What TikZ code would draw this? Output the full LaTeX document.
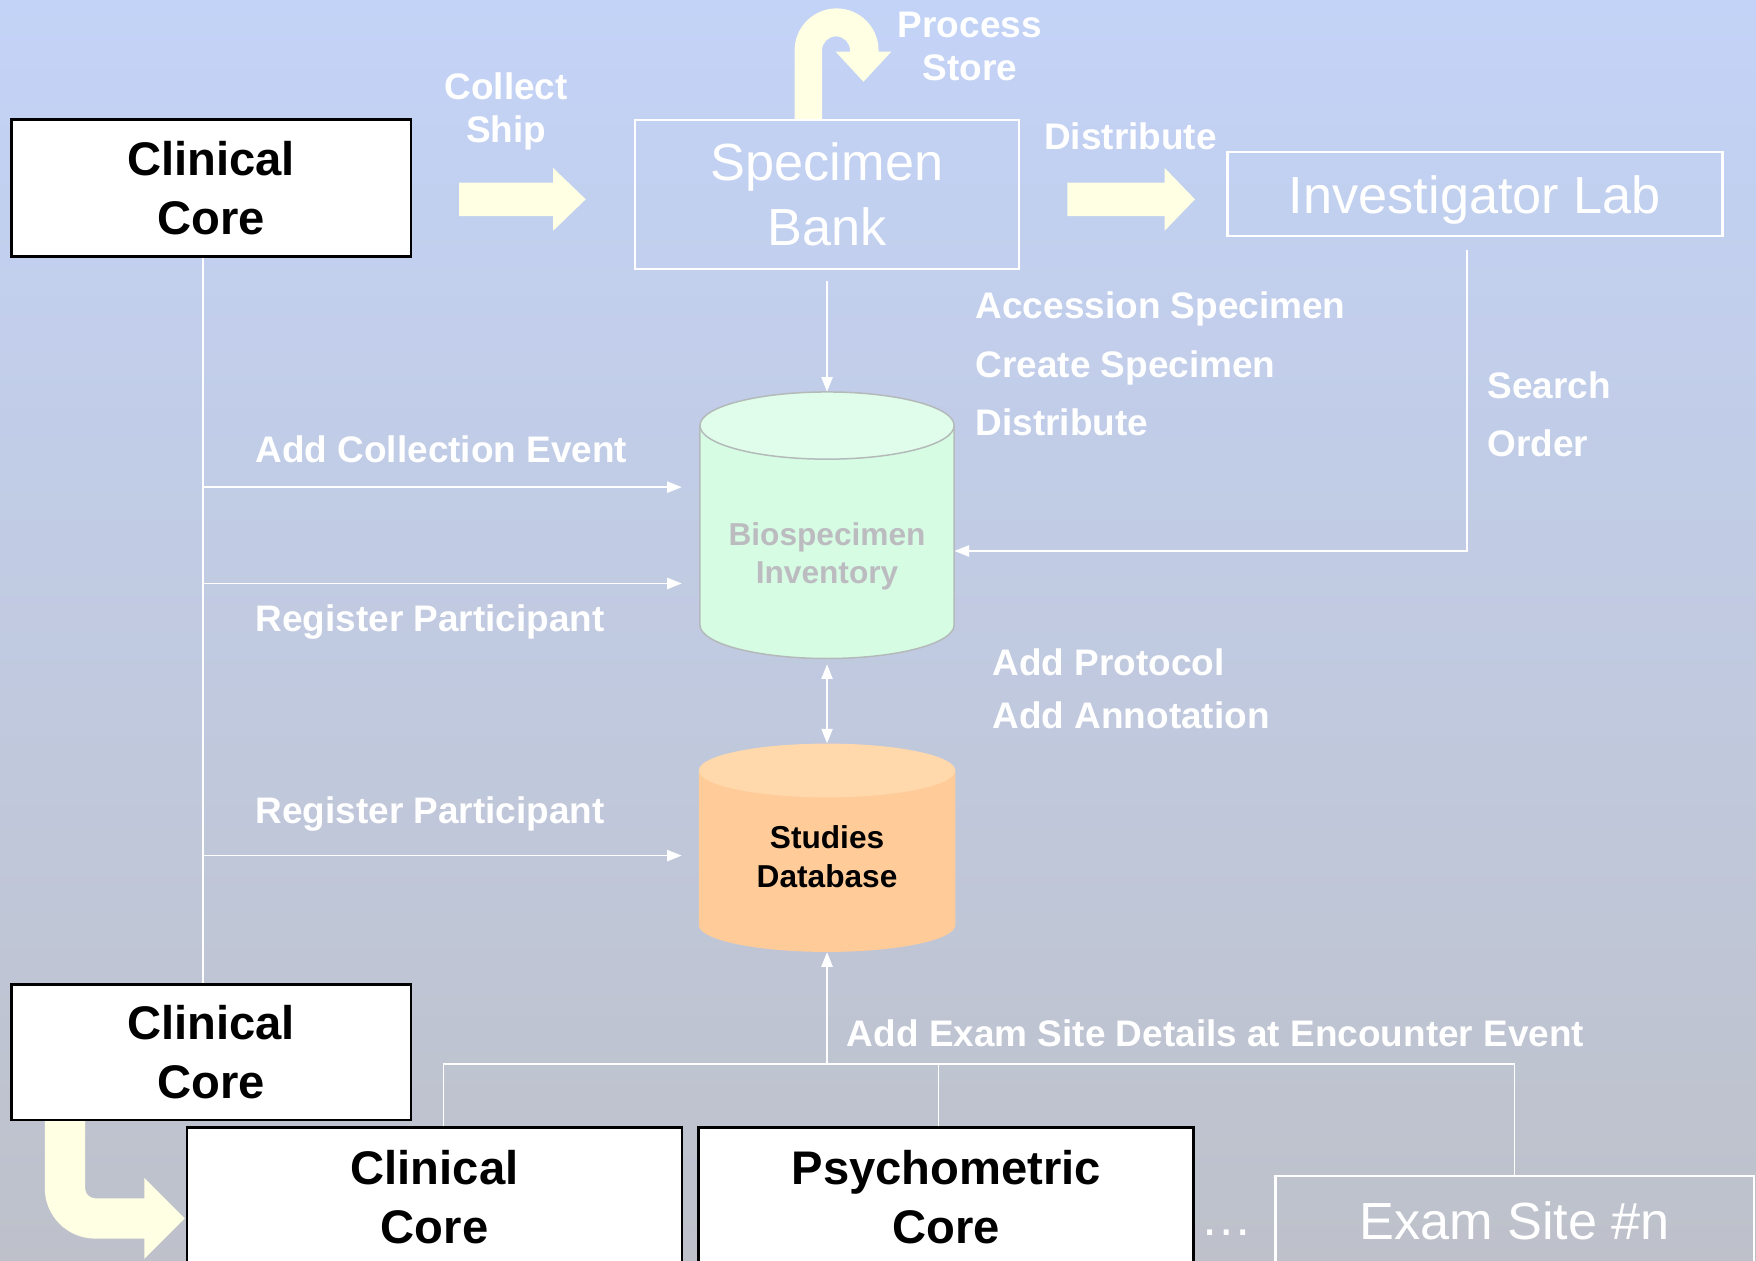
\documentclass[tikz,border=0pt]{standalone}
\usepackage{fontspec}
\setmainfont{Liberation Sans}
\usetikzlibrary{arrows.meta}

\definecolor{bgtop}{RGB}{195,211,247}
\definecolor{bgbot}{RGB}{190,193,202}
\definecolor{pale}{RGB}{255,255,228}
\definecolor{biobody}{RGB}{214,252,228}
\definecolor{biotop}{RGB}{224,253,235}
\definecolor{biorim}{RGB}{180,186,186}
\definecolor{biotext}{RGB}{188,188,192}
\definecolor{studbody}{RGB}{255,204,153}
\definecolor{studtop}{RGB}{255,216,172}

\tikzset{
  wire/.style={draw=white, line width=1.1pt},
  flow/.style={wire, -{Triangle[length=9.75pt,width=7.5pt]}},
  twoway/.style={wire, {Triangle[length=9.75pt,width=7.5pt]}-{Triangle[length=9.75pt,width=7.5pt]}},
  core/.style={draw=black, line width=1.8pt, fill=white, text=black, align=center, inner sep=0pt, font=\bfseries\fontsize{31.6}{39}\selectfont},
  site/.style={draw=white, line width=1.5pt, text=white, align=center, inner sep=0pt, font=\fontsize{35}{43.5}\selectfont},
  lbl/.style={text=white, inner sep=0pt, align=left, font=\bfseries\fontsize{24.75}{39}\selectfont},
  dbtxt/.style={align=center, inner sep=0pt, font=\bfseries\fontsize{21.2}{25.5}\selectfont},
  can/.style={inner sep=0pt}
}

\begin{document}
\begin{tikzpicture}[x=0.75pt,y=0.75pt,yscale=-1,xscale=1]
\clip (0,0) rectangle (1568,1126);

%Shape: Background
\fill[top color=bgtop, bottom color=bgbot] (0,0) rectangle (1568,1126);

%Shape: Block Arrow
\fill[pale] (410,163) -- (494,163) -- (494,150) -- (523,178) -- (494,206) -- (494,193) -- (410,193) -- cycle;
%Shape: Block Arrow
\fill[pale] (953,163) -- (1040,163) -- (1040,150) -- (1067,178) -- (1040,206) -- (1040,193) -- (953,193) -- cycle;
%Shape: U-turn Arrow
\fill[pale] (709.5,107) -- (709.5,45) arc[start angle=180,end angle=360,radius=37.5] -- (784.5,46) -- (796,46) -- (771,73) -- (746,46) -- (759,46) -- (759,45) arc[start angle=0,end angle=-180,radius=12.5] -- (734,107) -- cycle;
%Shape: Bent Arrow
\fill[pale] (40,1000) -- (40,1061) arc[start angle=180,end angle=90,radius=45] -- (129,1106) -- (129,1124) -- (165,1088) -- (129,1052) -- (129,1070) -- (85,1070) arc[start angle=90,end angle=180,radius=9] -- (76,1000) -- cycle;

%Shape: Can
\filldraw[fill=biobody, draw=biorim, line width=1pt] (625,380) -- (625,558) arc[start angle=180,end angle=0,x radius=113.5,y radius=30] -- (852,380) -- cycle;
\filldraw[fill=biotop, draw=biorim, line width=1pt] (738.5,380) ellipse [x radius=113.5, y radius=30];
%Shape: Can
\fill[studbody] (624,688) -- (624,826) arc[start angle=180,end angle=0,x radius=114.5,y radius=24] -- (853,688) -- cycle;
\fill[studtop] (738.5,688) ellipse [x radius=114.5, y radius=24];

% Box Nodes
\node[core, minimum width=267.75pt, minimum height=91.5pt] (cc1) at (188.5,168) {Clinical\\Core};
\node[core, minimum width=267.75pt, minimum height=90.75pt] (cc2) at (188.5,939.5) {Clinical\\Core};
\node[core, minimum width=331.5pt, minimum height=93pt] (cc3) at (388,1069) {Clinical\\Core};
\node[core, minimum width=331.5pt, minimum height=93pt] (psy) at (845,1069) {Psychometric\\Core};
\node[site, minimum width=257.25pt, minimum height=99.75pt] (spec) at (738.5,173.5) {Specimen\\Bank};
\node[site, text depth=0pt, minimum width=331.5pt, minimum height=56.25pt] (lab) at (1317,173.5) {Investigator Lab};
\node[site, minimum width=320.25pt, minimum height=60pt] (exam) at (1352.5,1090) {Exam Site \#n};
\node[can, minimum width=170.25pt, minimum height=178.5pt] (bio) at (738.5,469) {};
\node[can, minimum width=171.75pt, minimum height=139.5pt] (stud) at (738.5,757) {};

% Text Node
\node[dbtxt, text=biotext] (biotxt) at (738.5,497) {Biospecimen\\Inventory};
% Text Node
\node[dbtxt, text=black] (studtxt) at (738.5,765) {Studies\\Database};
% Text Node
\node[lbl, align=center, font=\bfseries\fontsize{24.75}{29.25}\selectfont] (collect) at (452,99.5) {Collect\\Ship};
% Text Node
\node[lbl, align=center, font=\bfseries\fontsize{24.75}{29.25}\selectfont] (process) at (866,41.5) {Process\\Store};
% Text Node
\node[lbl] (dist) at (1009.5,122) {Distribute};
% Text Node
\node[lbl, anchor=west] (access) at (871,325) {Accession Specimen\\Create Specimen\\Distribute};
% Text Node
\node[lbl, anchor=west] (search) at (1328,370) {Search\\Order};
% Text Node
\node[lbl, anchor=west] (addcoll) at (228,401) {Add Collection Event};
% Text Node
\node[lbl, anchor=west, text depth=0pt] (reg1) at (228,552) {Register Participant};
% Text Node
\node[lbl, anchor=west, text depth=0pt] (reg2) at (228,723) {Register Participant};
% Text Node
\node[lbl, anchor=west, font=\bfseries\fontsize{24.75}{36}\selectfont] (proto) at (886,615) {Add Protocol\\Add Annotation};
% Text Node
\node[lbl, anchor=west] (exdet) at (756,923) {Add Exam Site Details at Encounter Event};
% Text Node
\node[text=white, inner sep=0pt, font=\fontsize{35}{40}\selectfont] (more) at (1095,1101) {…};

% Branch Points
\coordinate (br1) at (181,435);
\coordinate (br2) at (181,521);
\coordinate (br3) at (181,764);
\coordinate (bus) at (738.5,950);
\coordinate (psytap) at ([xshift=-5.25pt]psy.north);

%Straight Lines
\draw[wire] ([xshift=-5.625pt]cc1.south) -- ([xshift=-5.625pt]cc2.north);
\draw[flow, shorten >=12pt] (br1) -- (br1 -| bio.west);
\draw[flow, shorten >=12pt] (br2) -- (br2 -| bio.west);
\draw[flow, shorten >=11.25pt] (br3) -- (br3 -| stud.west);
%Straight Lines
\draw[flow] ([yshift=7.5pt]spec.south) -- (bio.north);
\draw[flow] ([xshift=-5.25pt,yshift=8.25pt]lab.south) |- ([yshift=17.25pt]bio.east);
\draw[twoway, shorten <=3.75pt] (bio.south) -- (stud.north);
%Straight Lines
\draw[flow] (bus) -- (stud.south);
\draw[wire] ([xshift=6pt]cc3.north) |- (exam.north |- bus) -- (exam.north);
\draw[wire] (psytap) -- (psytap |- bus);

\end{tikzpicture}
\end{document}
